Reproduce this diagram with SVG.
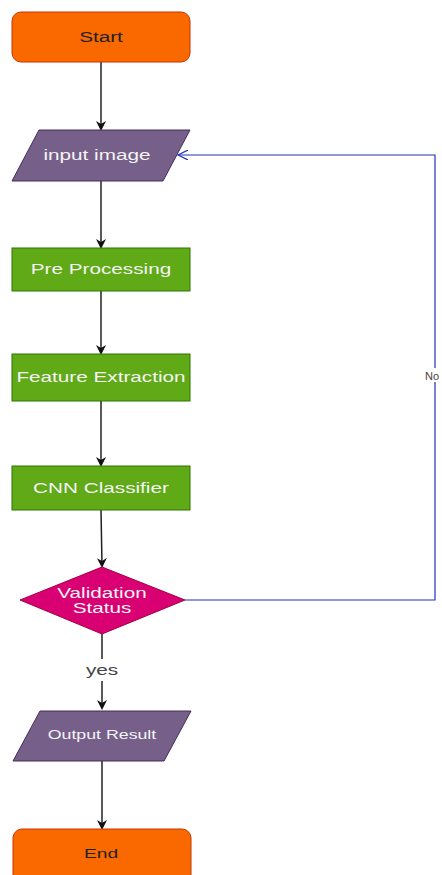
<svg xmlns="http://www.w3.org/2000/svg" width="442" height="875" viewBox="0 0 442 875">
<style>
.t{font-family:"Liberation Sans",Arial,sans-serif;font-size:14px;text-anchor:middle;dominant-baseline:central}
.w{fill:#f4f4f4}
.d{fill:#222222}
.term{fill:#fa6800;stroke:#c73500;stroke-width:1}
.io{fill:#76608a;stroke:#432d57;stroke-width:1}
.proc{fill:#60a917;stroke:#2d7600;stroke-width:1}
.dec{fill:#d80073;stroke:#a50040;stroke-width:1}
.c{fill:none;stroke:#222;stroke-width:1.5}
.b{fill:none;stroke:#2233bb;stroke-width:1.2}
</style>
<defs>
<marker id="ah" markerWidth="10" markerHeight="10" refX="8" refY="5" orient="auto" markerUnits="userSpaceOnUse">
<path d="M0,0 L10,5 L0,10 L3,5 Z" fill="#111"/>
</marker>
<marker id="bh" markerWidth="12" markerHeight="10" refX="10" refY="5" orient="auto" markerUnits="userSpaceOnUse">
<path d="M0,0 L10,5 L0,10" fill="none" stroke="#2233bb" stroke-width="1.2"/>
</marker>
</defs>
<rect width="442" height="875" fill="#ffffff"/>
<g id="connectors">
<line class="c" x1="101" y1="62" x2="101" y2="129" marker-end="url(#ah)"/>
<line class="c" x1="101" y1="181" x2="101" y2="247" marker-end="url(#ah)"/>
<line class="c" x1="101" y1="291" x2="101" y2="353" marker-end="url(#ah)"/>
<line class="c" x1="101" y1="401" x2="101" y2="465" marker-end="url(#ah)"/>
<line class="c" x1="101" y1="510" x2="102" y2="566" stroke="#666" marker-end="url(#ah)"/>
<line class="c" x1="102" y1="634" x2="102" y2="659"/>
<line class="c" x1="102" y1="681" x2="102" y2="708" marker-end="url(#ah)"/>
<text class="t" transform="translate(102,670) scale(1.48,1)" fill="#444">yes</text>
<line class="c" x1="102" y1="761" x2="102" y2="828" marker-end="url(#ah)"/>
<polyline class="b" points="185,600 435,600 435,155 178,155" marker-end="url(#bh)"/>
<rect x="424" y="368" width="18" height="14" fill="#ffffff"/>
<text x="425" y="376" font-family="Liberation Sans,Arial,sans-serif" font-size="11" fill="#444" dominant-baseline="central">No</text>
</g>
<g id="start">
<rect class="term" x="12" y="12" width="178" height="50" rx="9"/>
<text class="t d" transform="translate(101,37) scale(1.48,1)">Start</text>
</g>
<g id="input-image">
<polygon class="io" points="39,130 190,130 163,181 12,181"/>
<text class="t w" transform="translate(97,155) scale(1.48,1)">input image</text>
</g>
<g id="pre-processing">
<rect class="proc" x="12" y="248" width="178" height="43"/>
<text class="t w" transform="translate(101,269) scale(1.48,1)">Pre Processing</text>
</g>
<g id="feature-extraction">
<rect class="proc" x="12" y="354" width="178" height="47"/>
<text class="t w" transform="translate(101,377) scale(1.48,1)">Feature Extraction</text>
</g>
<g id="cnn-classifier">
<rect class="proc" x="12" y="466" width="178" height="44"/>
<text class="t w" transform="translate(101,488) scale(1.48,1)">CNN Classifier</text>
</g>
<g id="validation-status">
<polygon class="dec" points="102,567 185,600 102,634 20,600"/>
<text class="t w" transform="translate(102,593) scale(1.48,1)">Validation</text>
<text class="t w" transform="translate(102,608) scale(1.48,1)">Status</text>
</g>
<g id="output-result">
<polygon class="io" points="40,711 191,711 164,761 13,761"/>
<text class="t w" transform="translate(102,735) scale(1.48,1)" style="font-size:12px">Output Result</text>
</g>
<g id="end">
<rect class="term" x="13" y="829" width="178" height="60" rx="9"/>
<text class="t d" transform="translate(101,853) scale(1.48,1)" style="font-size:13px">End</text>
</g>
</svg>
